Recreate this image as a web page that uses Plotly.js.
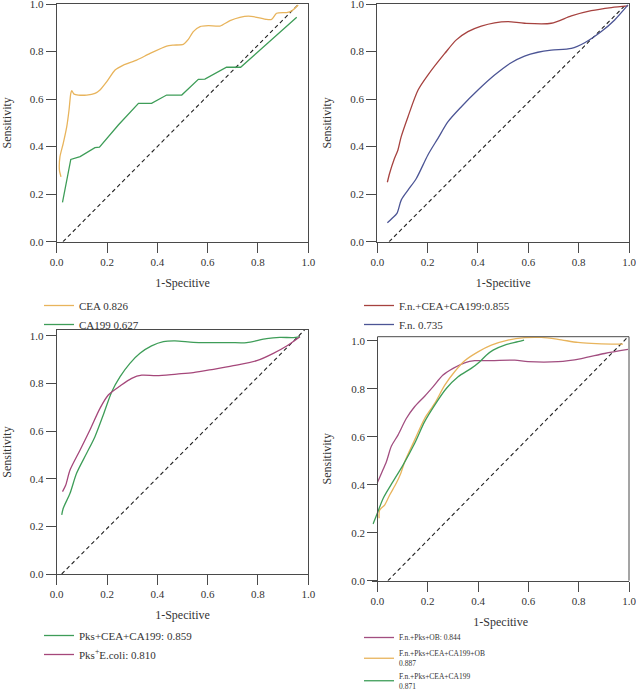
<!DOCTYPE html>
<html>
<head>
<meta charset="utf-8">
<script src="https://cdn.plot.ly/plotly-3.0.1.min.js"></script>
<style>html,body{margin:0;padding:0;background:#fff;}#chart{width:636px;height:689px;}</style>
</head>
<body>
<div id="chart"></div>
<script>
// ---------- Panel 1 ----------
const ceaX = [0.017,0.011,0.013,0.026,0.040,0.049,0.056,0.060,0.069,0.086,0.119,0.152,0.172,0.199,0.232,0.265,0.318,0.371,0.437,0.464,0.503,0.523,0.543,0.570,0.603,0.649,0.689,0.728,0.762,0.795,0.834,0.854,0.874,0.914,0.934,0.960];
const ceaY = [0.273,0.300,0.358,0.414,0.484,0.554,0.624,0.635,0.621,0.617,0.617,0.624,0.638,0.673,0.722,0.743,0.764,0.792,0.823,0.827,0.830,0.851,0.884,0.905,0.909,0.907,0.930,0.944,0.949,0.944,0.935,0.935,0.961,0.964,0.971,0.996];
const ca199X = [0.023,0.056,0.093,0.152,0.170,0.245,0.325,0.377,0.437,0.497,0.563,0.589,0.675,0.731,0.954];
const ca199Y = [0.165,0.346,0.358,0.396,0.398,0.491,0.582,0.582,0.617,0.617,0.683,0.684,0.734,0.734,0.944];
const ref1X = [0.025,0.962];
const ref1Y = [0,1];

// ---------- Panel 2 ----------
const fnComboX = [0.040,0.049,0.066,0.082,0.095,0.122,0.162,0.201,0.268,0.314,0.360,0.413,0.466,0.519,0.585,0.691,0.771,0.850,0.930,0.996];
const fnComboY = [0.250,0.288,0.344,0.386,0.442,0.526,0.638,0.701,0.792,0.849,0.884,0.907,0.921,0.926,0.919,0.919,0.950,0.972,0.985,0.992];
const fnX = [0.040,0.058,0.078,0.095,0.122,0.155,0.201,0.241,0.281,0.334,0.400,0.466,0.532,0.585,0.638,0.691,0.771,0.824,0.890,0.943,0.996];
const fnY = [0.080,0.098,0.119,0.175,0.217,0.266,0.365,0.435,0.505,0.568,0.638,0.701,0.753,0.781,0.797,0.806,0.813,0.837,0.884,0.933,0.996];
const ref2X = [0.047,0.99];
const ref2Y = [0,1];

// ---------- Panel 3 ----------
const pksComboX = [0.020,0.026,0.053,0.079,0.119,0.152,0.185,0.219,0.252,0.291,0.331,0.377,0.424,0.470,0.543,0.609,0.689,0.755,0.834,0.887,0.940,0.967];
const pksComboY = [0.248,0.276,0.339,0.423,0.507,0.577,0.668,0.766,0.829,0.885,0.927,0.958,0.976,0.979,0.973,0.972,0.972,0.972,0.989,0.994,0.993,0.997];
const pksEcoliX = [0.023,0.036,0.053,0.093,0.132,0.172,0.205,0.252,0.298,0.338,0.397,0.477,0.543,0.623,0.702,0.795,0.861,0.914,0.967];
const pksEcoliY = [0.346,0.374,0.437,0.521,0.605,0.696,0.752,0.790,0.822,0.835,0.833,0.840,0.846,0.860,0.875,0.896,0.927,0.958,0.997];
const ref3X = [0.02,0.985];
const ref3Y = [0,1.025];

// ---------- Panel 4 ----------
const fnPksObX = [0.0,0.016,0.036,0.056,0.082,0.115,0.148,0.188,0.221,0.261,0.301,0.347,0.387,0.453,0.546,0.599,0.718,0.811,0.903,0.996];
const fnPksObY = [0.408,0.447,0.496,0.561,0.607,0.676,0.725,0.769,0.808,0.857,0.885,0.908,0.917,0.917,0.919,0.913,0.913,0.926,0.947,0.964];
const fnAllObX = [0.007,0.009,0.029,0.049,0.075,0.093,0.109,0.148,0.188,0.228,0.268,0.307,0.347,0.400,0.453,0.519,0.585,0.652,0.718,0.797,0.850,0.930,0.976];
const fnAllObY = [0.260,0.294,0.315,0.357,0.406,0.447,0.496,0.586,0.676,0.739,0.815,0.871,0.917,0.954,0.982,1.003,1.013,1.014,1.006,0.993,0.989,0.986,0.986];
const fnAllX = [-0.017,0.0,0.023,0.062,0.102,0.148,0.188,0.228,0.274,0.321,0.373,0.407,0.433,0.460,0.506,0.559,0.583];
const fnAllY = [0.236,0.281,0.343,0.413,0.482,0.572,0.663,0.732,0.801,0.850,0.885,0.913,0.940,0.961,0.982,0.996,1.003];
const ref4X = [0.042,0.99];
const ref4Y = [0,1.01];

const tickVals = [0,0.2,0.4,0.6,0.8,1.0];
const xTitle = '1-Specitive';
const yTitle = 'Sensitivity';

const SERIF = '"Liberation Serif", "DejaVu Serif", serif';
const AX = '#4a4a4a';
const tickFont = {family: SERIF, size: 11, color: '#333'};
const titleFont = {family: SERIF, size: 12, color: '#333'};

function xax(domain, range, mirror){
  return {domain: domain, range: range, tickvals: tickVals, tickformat: '.1f', showgrid: false, zeroline: false,
    showline: true, linecolor: AX, linewidth: 1, mirror: mirror, ticks: 'outside', ticklen: 10, tickcolor: AX, tickwidth: 1,
    ticklabeloverflow: 'allow', automargin: false,
    tickfont: tickFont, title: {text: xTitle, font: titleFont, standoff: 11}, fixedrange: true};
}
function yax(domain, range, standoff, extra){
  const o = {domain: domain, range: range, tickvals: tickVals, tickformat: '.1f', showgrid: false, zeroline: false,
    showline: true, linecolor: AX, linewidth: 1, mirror: true, ticks: 'outside', ticklen: 10, tickcolor: AX, tickwidth: 1,
    ticklabeloverflow: 'allow', automargin: false,
    tickfont: tickFont, title: {text: yTitle, font: titleFont, standoff: standoff}, fixedrange: true};
  return Object.assign(o, extra || {});
}

const W = 636, H = 689;
const px = v => v / W;
const py = v => 1 - v / H;

const C_YEL = '#E8B45C', C_GRN = '#3E9D58', C_RED = '#A6423F', C_BLU = '#4C5595', C_PNK = '#A5477A', C_PUR = '#A24E80';
const lw = 1.3;

function ref(x, y, xa, ya){
  return {x: x, y: y, xaxis: xa, yaxis: ya, mode: 'lines', line: {color: '#222', width: 1.1, dash: '4px,3px'}, showlegend: false, hoverinfo: 'skip'};
}

const traces = [
  ref(ref1X, ref1Y, 'x', 'y'),
  {x: ceaX, y: ceaY, xaxis: 'x', yaxis: 'y', mode: 'lines', name: 'CEA 0.826', line: {color: C_YEL, width: lw, shape: 'spline', smoothing: 0.6}, legend: 'legend'},
  {x: ca199X, y: ca199Y, xaxis: 'x', yaxis: 'y', mode: 'lines', name: 'CA199 0.627', line: {color: C_GRN, width: lw}, legend: 'legend'},

  ref(ref2X, ref2Y, 'x2', 'y2'),
  {x: fnComboX, y: fnComboY, xaxis: 'x2', yaxis: 'y2', mode: 'lines', name: 'F.n.+CEA+CA199:0.855', line: {color: C_RED, width: lw, shape: 'spline', smoothing: 0.8}, legend: 'legend2'},
  {x: fnX, y: fnY, xaxis: 'x2', yaxis: 'y2', mode: 'lines', name: 'F.n. 0.735', line: {color: C_BLU, width: lw, shape: 'spline', smoothing: 0.8}, legend: 'legend2'},

  ref(ref3X, ref3Y, 'x3', 'y3'),
  {x: pksComboX, y: pksComboY, xaxis: 'x3', yaxis: 'y3', mode: 'lines', name: 'Pks+CEA+CA199: 0.859', line: {color: C_GRN, width: lw, shape: 'spline', smoothing: 0.8}, legend: 'legend3'},
  {x: pksEcoliX, y: pksEcoliY, xaxis: 'x3', yaxis: 'y3', mode: 'lines', name: 'Pks<sup>+</sup>E.coli: 0.810', line: {color: C_PNK, width: lw, shape: 'spline', smoothing: 0.8}, legend: 'legend3'},

  ref(ref4X, ref4Y, 'x4', 'y4'),
  {x: fnPksObX, y: fnPksObY, xaxis: 'x4', yaxis: 'y4', mode: 'lines', name: 'F.n.+Pks+OB: 0.844', line: {color: C_PUR, width: lw, shape: 'spline', smoothing: 0.8}, legend: 'legend4'},
  {x: fnAllObX, y: fnAllObY, xaxis: 'x4', yaxis: 'y4', mode: 'lines', name: 'F.n.+Pks+CEA+CA199+OB<br>0.887', line: {color: C_YEL, width: lw, shape: 'spline', smoothing: 0.8}, legend: 'legend4'},
  {x: fnAllX, y: fnAllY, xaxis: 'x4', yaxis: 'y4', mode: 'lines', name: 'F.n.+Pks+CEA+CA199<br>0.871', line: {color: C_GRN, width: lw, shape: 'spline', smoothing: 0.8}, legend: 'legend4'}
];

const legBase = {bgcolor: 'rgba(0,0,0,0)', borderwidth: 0, xanchor: 'left', yanchor: 'top', traceorder: 'normal', tracegroupgap: 0, itemclick: false, itemdoubleclick: false};
const legFont = {family: SERIF, size: 11, color: '#333'};

const layout = {
  width: W, height: H,
  margin: {l: 0, r: 0, t: 0, b: 0, autoexpand: false},
  paper_bgcolor: '#fff', plot_bgcolor: '#fff',
  xaxis:  xax([px(56.7), px(308.3)], [0, 1], true),
  yaxis:  yax([py(241.7), py(4)], [0, 1], 15),
  xaxis2: xax([px(377.3), px(629)], [0, 1], true),
  yaxis2: yax([py(241.7), py(4)], [0, 1], 16, {anchor: 'x2'}),
  xaxis3: xax([px(56.7), px(308.3)], [0, 1.0], true),
  yaxis3: yax([py(574), py(330)], [0, 1.025], 15, {anchor: 'x3'}),
  xaxis4: xax([px(372.3), px(629)], [-0.02, 1.0], false),
  yaxis4: yax([py(580.7), py(336.7)], [0, 1.017], 16, {anchor: 'free', position: px(377.3), mirror: false}),
  legend:  Object.assign({}, legBase, {x: px(39), y: py(291), font: legFont}),
  legend2: Object.assign({}, legBase, {x: px(359), y: py(291), font: legFont}),
  legend3: Object.assign({}, legBase, {x: px(39), y: py(621), font: legFont}),
  legend4: Object.assign({}, legBase, {x: px(359), y: py(623), font: {family: SERIF, size: 7.5, color: '#333'}}),
  shapes: [
    {type: 'line', xref: 'x4', yref: 'y4 domain', x0: 0, x1: 1, y0: 1, y1: 1, line: {color: AX, width: 1}},
    {type: 'line', xref: 'x4 domain', yref: 'y4 domain', x0: 1, x1: 1, y0: 0, y1: 1, line: {color: AX, width: 1}}
  ],
  showlegend: true
};
layout.xaxis.anchor = 'y';
layout.xaxis2.anchor = 'y2';
layout.xaxis3.anchor = 'y3';
layout.xaxis4.anchor = 'y4';

Plotly.newPlot('chart', traces, layout, {displayModeBar: false, staticPlot: true});
</script>
</body>
</html>
